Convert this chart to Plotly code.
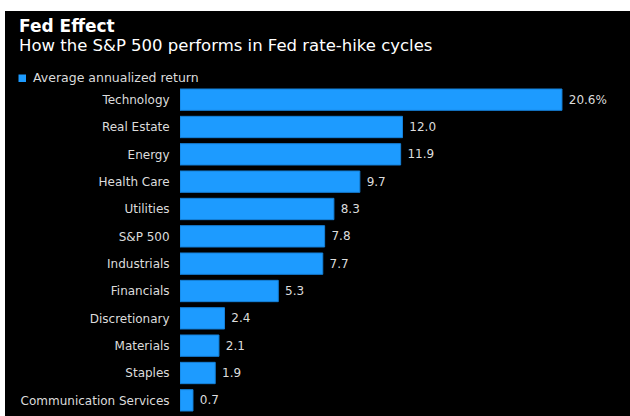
import plotly.graph_objects as go

categories = ["Technology", "Real Estate", "Energy", "Health Care", "Utilities",
              "S&P 500", "Industrials", "Financials", "Discretionary", "Materials",
              "Staples", "Communication Services"]
values = [20.6, 12.0, 11.9, 9.7, 8.3, 7.8, 7.7, 5.3, 2.4, 2.1, 1.9, 0.7]
labels = ["20.6%"] + [f"{v:.1f}" for v in values[1:]]
series_name = "Average annualized return"
title = "Fed Effect"
subtitle = "How the S&P 500 performs in Fed rate-hike cycles"

W, H = 630, 416
ML, MR, MT, MB = 180, 5, 86, 2
PW, PH = W - ML - MR, H - MT - MB

def px_x(px):
    return (px - ML) / PW

def px_y(py):
    return (H - MB - py) / PH

FONT = "DejaVu Sans"
BLUE = "#1d9bff"

fig = go.Figure()
fig.add_trace(go.Bar(
    y=categories, x=values, orientation="h", name=series_name,
    marker=dict(color=BLUE, line=dict(color="#1580d8", width=1)),
    text=[" " + t for t in labels], textposition="outside",
    textfont=dict(family=FONT, size=12, color="#dcdcdc"),
    cliponaxis=False, showlegend=False,
))

fig.update_layout(
    width=W, height=H,
    margin=dict(l=ML, r=MR, t=MT, b=MB, pad=0, autoexpand=False),
    paper_bgcolor="white", plot_bgcolor="black",
    bargap=0.22,
    font=dict(family=FONT, color="#dcdcdc", size=12),
    xaxis=dict(range=[0, 24], visible=False, fixedrange=True),
    yaxis=dict(autorange="reversed", showgrid=False, zeroline=False, showline=False,
               ticks="outside", ticklen=7, tickcolor="rgba(0,0,0,0)",
               tickfont=dict(family=FONT, size=12, color="#dcdcdc")),
    shapes=[
        dict(type="rect", xref="paper", yref="paper", layer="below",
             x0=px_x(5), x1=px_x(W + 2), y0=px_y(H + 2), y1=px_y(11),
             fillcolor="black", line=dict(width=0)),
        dict(type="rect", xref="paper", yref="paper", layer="above",
             x0=px_x(18.5), x1=px_x(26), y0=px_y(82), y1=px_y(74.5),
             fillcolor=BLUE, line=dict(width=0)),
    ],
    annotations=[
        dict(text=f"<b>{title}</b>", xref="paper", yref="paper", x=px_x(17), y=px_y(26),
             xanchor="left", yanchor="middle", showarrow=False,
             font=dict(family=FONT, size=17, color="white")),
        dict(text=subtitle, xref="paper", yref="paper", x=px_x(17), y=px_y(46),
             xanchor="left", yanchor="middle", showarrow=False,
             font=dict(family=FONT, size=16.5, color="white")),
        dict(text=series_name, xref="paper", yref="paper", x=px_x(31), y=px_y(77.5),
             xanchor="left", yanchor="middle", showarrow=False,
             font=dict(family=FONT, size=12.5, color="#dcdcdc")),
    ],
)

fig.write_html("out.html")
